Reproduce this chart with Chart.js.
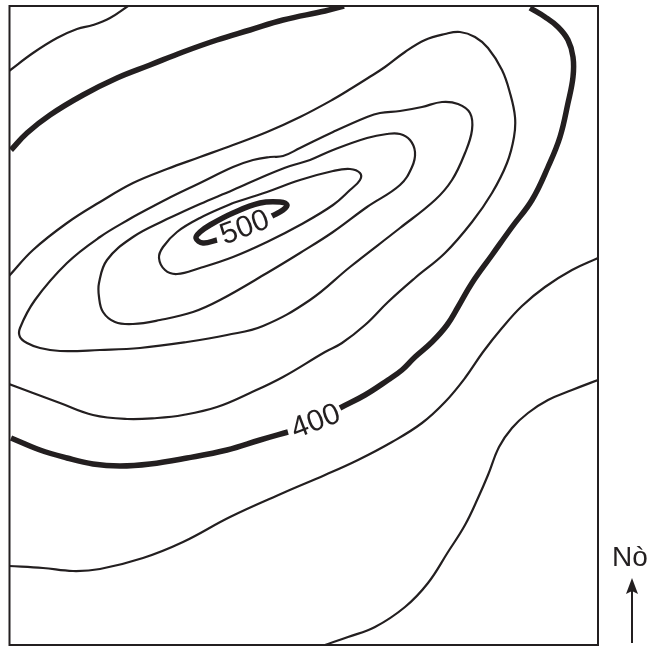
<!DOCTYPE html>
<html>
<head>
<meta charset="utf-8">
<style>
  html, body { margin: 0; padding: 0; background: #fff; }
  canvas { display: block; }
</style>
<script src="https://cdn.jsdelivr.net/npm/chart.js@4"></script>
</head>
<body>
<canvas id="contourChart" width="649" height="648"></canvas>
<script>
// contour traces, [x, y] in map units
const c360 = [[598,380],[572,390],[548,400],[528,413],[512,428],[499,447],[488,475],[478,498],[465,525],[448,552],[428,583],[405,607],[375,627],[348,637],[325,645]];
const c380a = [[9,71],[33,53],[57,38],[77,29],[93,25],[110,18],[128,6]];
const c380b = [[598,258],[572,270],[545,287],[522,306],[502,328],[483,352],[465,378],[445,402],[422,423],[392,442],[358,460],[325,475],[283,493],[230,517],[183,542],[143,558],[100,569],[73,571],[43,568],[9,566]];
const c400a = [[11,150],[27,133],[50,115],[83,95],[117,78],[150,65],[183,52],[217,40],[250,30],[283,20],[325,11],[344,6]];
const c400b = [[530,8],[545,17],[558,27],[568,40],[573,57],[573,77],[568,103],[560,137],[548,167],[532,200],[512,227],[492,255],[472,283],[458,307],[447,325],[432,342],[415,357],[402,370],[388,380],[365,395],[340,408]];
const c400c = [[288,432],[260,440],[227,450],[187,458],[150,464],[120,466],[93,464],[67,458],[40,450],[11,438]];
const c420 = [[9,276],[33,250],[67,223],[100,202],[133,183],[167,169],[200,157],[233,145],[267,132],[300,117],[332,100],[352,88],[368,78],[385,67],[405,52],[425,40],[445,34],[460,32],[475,37],[488,48],[502,70],[510,93],[515,117],[514,137],[507,163],[492,193],[472,222],[445,253],[415,278],[388,302],[365,325],[342,343],[325,352],[283,377],[250,393],[217,407],[183,415],[157,418],[127,419],[93,415],[60,403],[33,393],[9,384]];
const c440 = [[133,217],[167,199],[200,183],[233,167],[253,160],[270,157],[283,156],[300,148],[333,132],[367,117],[380,113],[400,111],[422,107],[442,102],[458,104],[470,113],[472,130],[465,153],[452,180],[435,200],[400,228],[350,267],[310,300],[263,326],[227,335],[187,342],[140,348],[100,350],[60,351],[40,348],[27,343],[20,337],[20,328],[35,300],[67,263],[100,237],[133,217]];
const c460 = [[167,219],[200,204],[233,190],[267,175],[290,166],[310,160],[333,150],[367,138],[387,134],[400,134],[410,140],[415,152],[412,167],[400,185],[367,207],[333,232],[300,253],[267,273],[220,300],[193,312],[160,320],[133,324],[115,322],[103,312],[99,297],[99,283],[107,260],[133,237],[167,219]];
const c480 = [[233,203],[267,192],[300,180],[333,171],[350,169],[360,173],[360,180],[350,190],[333,205],[300,225],[267,242],[233,257],[200,268],[177,274],[165,270],[159,258],[163,247],[177,232],[200,218],[233,203]];
const c500 = [[217,240],[203,243],[196,238],[200,232],[210,225],[233,213],[260,203],[280,202],[287,205],[283,210],[272,216]];

const levelLabels = ['500', '400'];
const levelLabelX = [245, 316];
const levelLabelY = [228, 422];
const northLabel = 'Nò';

const ink = '#231f20';

function thin(points) {
    return { data: points.map(p => ({ x: p[0], y: p[1] })), borderColor: ink, borderWidth: 2.2, tension: 0.4, pointRadius: 0 };
}
function thick(points) {
    return { data: points.map(p => ({ x: p[0], y: p[1] })), borderColor: ink, borderWidth: 5.5, tension: 0.4, pointRadius: 0 };
}

const mapDecor = {
    id: 'mapDecor',
    afterDatasetsDraw(chart) {
        const { ctx, chartArea: a, scales } = chart;
        ctx.save();
        ctx.strokeStyle = ink;
        ctx.lineWidth = 2;
        ctx.strokeRect(a.left, a.top, a.right - a.left, a.bottom - a.top);

        // contour labels
        ctx.fillStyle = ink;
        ctx.font = '30px "Liberation Sans"';
        ctx.textAlign = 'center';
        ctx.textBaseline = 'middle';
        levelLabels.forEach((t, i) => {
            ctx.save();
            ctx.translate(scales.x.getPixelForValue(levelLabelX[i]), scales.y.getPixelForValue(levelLabelY[i]));
            ctx.rotate(-21 * Math.PI / 180);
            ctx.fillText(t, 0, 0);
            ctx.restore();
        });

        // north arrow
        ctx.font = '28px "Liberation Sans"';
        ctx.textAlign = 'left';
        ctx.textBaseline = 'alphabetic';
        ctx.fillText(northLabel, 612, 566);
        ctx.lineWidth = 2;
        ctx.beginPath();
        ctx.moveTo(632, 643);
        ctx.lineTo(632, 590);
        ctx.stroke();
        ctx.beginPath();
        ctx.moveTo(632, 578);
        ctx.lineTo(638, 594);
        ctx.lineTo(632, 591);
        ctx.lineTo(626, 594);
        ctx.closePath();
        ctx.fill();
        ctx.restore();
    }
};

new Chart(document.getElementById('contourChart'), {
    type: 'scatter',
    data: {
        datasets: [
            thin(c360), thin(c380a), thin(c380b),
            thick(c400a), thick(c400b), thick(c400c),
            thin(c420), thin(c440), thin(c460), thin(c480),
            thick(c500)
        ]
    },
    options: {
        responsive: false,
        animation: false,
        showLine: true,
        layout: { padding: { left: 9.5, right: 51, top: 6, bottom: 3 } },
        plugins: { legend: { display: false }, tooltip: { enabled: false } },
        scales: {
            x: { type: 'linear', min: 9.5, max: 598, display: false },
            y: { type: 'linear', min: 6, max: 645, reverse: true, display: false }
        }
    },
    plugins: [mapDecor]
});
</script>
</body>
</html>
